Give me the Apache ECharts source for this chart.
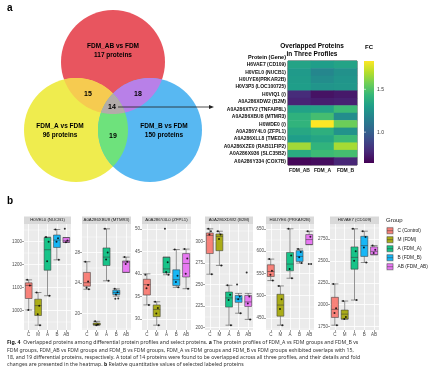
<!DOCTYPE html>
<html>
<head>
<meta charset="utf-8">
<script src="https://cdn.jsdelivr.net/npm/echarts@6/dist/echarts.min.js"></script>
<style>
html,body{margin:0;padding:0;background:#fff}
#chart{width:430px;height:375px}
</style>
</head>
<body>
<div id="chart"></div>
<script>
var chart = echarts.init(document.getElementById('chart'));

// ---- panel a : venn ----
var vennNames = ['FDM_AB vs FDM', 'FDM_A vs FDM', 'FDM_B vs FDM'];
var vennTotals = [117, 96, 150];
var vennPairs = [15, 18, 19];   // AB&A, AB&B, A&B
var vennAll = 14;

// ---- panel a : heatmap ----
var proteins = ['H6VAE7 (CD109)', 'H0VEL0 (NUCB1)', 'H0UYE6(PRKAR2B)', 'H0V3P3 (LOC100725)', 'H0VIQ1 (/)',
  'A0A286XDW2 (B2M)', 'A0A286XTV2 (TNFAIP8L)', 'A0A286XBU8 (MTMR3)', 'H0WDE0 (/)', 'A0A286Y4L0 (ZFPL1)',
  'A0A286XLL8 (TMED1)', 'A0A286XZE0 (RAB11FIP2)', 'A0A286X936 (SLC35B2)', 'A0A286Y334 (COX7B)'];
var profiles = ['FDM_AB', 'FDM_A', 'FDM_B'];
var fcAB = [1.33, 1.28, 1.29, 1.30, 0.79, 0.76, 1.32, 1.40, 1.41, 1.35, 1.30, 1.66, 1.37, 0.66];
var fcA  = [1.30, 1.19, 1.22, 1.26, 0.70, 0.74, 1.33, 1.47, 1.83, 1.39, 1.34, 1.41, 1.45, 0.68];
var fcB  = [1.33, 1.24, 1.26, 1.27, 0.72, 0.75, 1.45, 1.22, 1.56, 1.25, 1.45, 1.67, 1.47, 0.77];
var fcTicks = [1.0, 1.5];

// ---- panel b : boxplots ----
var groups = ['C', 'M', 'A', 'B', 'AB'];
var groupNames = ['C (Control)', 'M (FDM)', 'A (FDM_A)', 'B (FDM_B)', 'AB (FDM_AB)'];
var facetTitles = ['H0VEL0 (NUCB1)', 'A0A286XBU8 (MTMR3)', 'A0A286Y4L0 (ZFPL1)', 'A0A286XDW2 (B2M)', 'H0UYE6 (PRKAR2B)', 'H6VAE7 (CD109)'];
// [min, Q1, median, Q3, max] per group
var boxNUCB1 = [[1003,1053,1110,1121,1134],[937,979,1022,1050,1079],[1065,1176,1265,1318,1320],[1221,1275,1307,1329,1353],[1297,1297,1304,1318,1318]];
var boxMTMR3 = [[23.2,23.6,24.05,25.4,26.8],[18.5,18.52,18.62,18.78,19.0],[24.3,26.3,27.4,28.6,31.1],[22.3,22.5,22.77,23.07,23.25],[25.4,25.4,26.75,26.9,27.4]];
var boxZFPL1 = [[33.1,35.3,37.6,38.8,40.0],[28.6,30.5,32.1,33.1,33.8],[39.8,40.2,41.1,43.7,43.7],[37.0,37.4,38.7,40.9,45.4],[36.7,39.3,42.3,44.5,45.5]];
var boxB2M = [[262,286,307.1,309.9,314.7],[272.2,289.3,306,308.7,311.9],[202.8,223.8,234.5,241.3,249.2],[216.7,229.3,233.3,237.3,239.7],[209.5,224.5,229.8,237.3,239.7]];
var boxPRKAR2B = [[533.7,542.8,554.1,569.2,582],[433.5,453.8,478.7,502.9,521.7],[539,555.7,570.8,597,650],[573,576.7,588,600.9,604.8],[614.5,614.5,625.8,637.1,644.6]];
var boxCD109 = [[1767,1855,1947,2084,2237],[1836,1836,1893,1939,2042],[2053,2405,2539,2658,2864],[2481,2550,2673,2779,2837],[2569,2569,2607,2658,2673]];
// sample points per group
var ptsNUCB1 = [[1134,1110,1003],[1079,1022,985,937],[1320,1300,1215,1065],[1353,1315,1300,1221],[1356,1305,1298]];
var ptsMTMR3 = [[26.8,24.2,23.4,23.2],[19.0,18.6,18.5],[31.1,28.0,27.1,24.3],[23.25,22.8,22.5,22.0,21.95],[27.4,26.8,26.5]];
var ptsZFPL1 = [[39.8,37.5,36.8,33.1],[33.8,32.4,31.2,28.6],[50.0,42.6,40.4,39.8],[45.4,39.6,38.2,37.0],[45.5,43.4,40.0,36.7]];
var ptsB2M = [[314.7,312,308,262],[311.9,308,303,272.2],[249.2,238,232,202.8],[250,236,233,216.7],[264,236,228,209.5]];
var ptsPRKAR2B = [[582,556,547,533.7],[521.7,492,470,433.5],[650,590,560,539],[604.8,598,586,573],[644.6,632,571,571]];
var ptsCD109 = [[2237,1960,1905,1767],[2042,1860,1836],[2864,2610,2500,2053],[2837,2770,2650,2481],[2673,2625,2590]];
var ticksNUCB1 = [1000, 1100, 1200, 1300];
var ticksMTMR3 = [20, 24, 28];
var ticksZFPL1 = [30, 35, 40, 45, 50];
var ticksB2M = [200, 225, 250, 275, 300];
var ticksPRKAR2B = [450, 500, 550, 600, 650];
var ticksCD109 = [1750, 2000, 2250, 2500, 2750];

var facetBoxes = [boxNUCB1, boxMTMR3, boxZFPL1, boxB2M, boxPRKAR2B, boxCD109];
var facetPts = [ptsNUCB1, ptsMTMR3, ptsZFPL1, ptsB2M, ptsPRKAR2B, ptsCD109];
var facetTicks = [ticksNUCB1, ticksMTMR3, ticksZFPL1, ticksB2M, ticksPRKAR2B, ticksCD109];

// ---- styling ----
var viridis = ['#440154','#482878','#3e4989','#31688e','#26828e','#1f9e89','#35b779','#6ece58','#b5de2b','#fde725'];
var groupColors = ['#F8766D', '#A3A500', '#00BF7D', '#00B0F6', '#E76BF3'];
var facetLeft = [24, 82, 142, 205, 266, 330];
var facetWidth = [47, 49, 49, 48, 48, 49];
var facetTop = 224, facetHeight = 106;
var jit = [-0.16, 0.12, -0.04, 0.2, -0.1];
var sans = 'Liberation Sans';

var grids = [], xAxes = [], yAxes = [], series = [], graphics = [];

// venn geometry
var vC = [[113, 62], [76, 130], [150, 130]];
var vR = 52;
var vColors = ['#e8555f', '#efec4e', '#58b8f2'];
var pairColors = ['#f6cb50', '#b880e8', '#6ee27c'];
var allColor = '#b3aca9';

function inter(a, b) {
  var dx = b[0] - a[0], dy = b[1] - a[1], d = Math.sqrt(dx*dx + dy*dy);
  var h = Math.sqrt(vR*vR - d*d/4);
  var mx = a[0] + dx/2, my = a[1] + dy/2;
  return [[mx - h*dy/d, my + h*dx/d], [mx + h*dy/d, my - h*dx/d]];
}
function arcPts(c, p, q) {
  var a0 = Math.atan2(p[1]-c[1], p[0]-c[0]), a1 = Math.atan2(q[1]-c[1], q[0]-c[0]);
  var d = a1 - a0;
  while (d > Math.PI) d -= 2*Math.PI;
  while (d < -Math.PI) d += 2*Math.PI;
  var out = [];
  for (var i = 0; i <= 30; i++) {
    var a = a0 + d*i/30;
    out.push([c[0] + vR*Math.cos(a), c[1] + vR*Math.sin(a)]);
  }
  return out;
}
function inside(p, c) {
  return Math.hypot(p[0]-c[0], p[1]-c[1]) < vR - 0.01;
}
vC.forEach(function (c, i) {
  graphics.push({type: 'circle', shape: {cx: c[0], cy: c[1], r: vR}, style: {fill: vColors[i]}});
});
var pairIdx = [[0, 1], [0, 2], [1, 2]];
var innerPts = [];
pairIdx.forEach(function (pr, k) {
  var ip = inter(vC[pr[0]], vC[pr[1]]);
  var third = vC[3 - pr[0] - pr[1]];
  innerPts.push(inside(ip[0], third) ? ip[0] : ip[1]);
  var poly = arcPts(vC[pr[0]], ip[0], ip[1]).concat(arcPts(vC[pr[1]], ip[1], ip[0]));
  graphics.push({type: 'polygon', shape: {points: poly}, style: {fill: pairColors[k]}});
});
// triple region: R-Y point, R-B point, Y-B point
var tri = arcPts(vC[0], innerPts[0], innerPts[1])
  .concat(arcPts(vC[2], innerPts[1], innerPts[2]))
  .concat(arcPts(vC[1], innerPts[2], innerPts[0]));
graphics.push({type: 'polygon', shape: {points: tri}, style: {fill: allColor}});

function txt(x, y, s, size, weight, align, color, family) {
  return {type: 'text', z: 10, style: {x: x, y: y, text: s, fontSize: size, fontWeight: weight || 'normal',
    align: align || 'center', verticalAlign: 'middle', fill: color || '#000', fontFamily: family || sans}};
}
var setLabelPos = [[113, 46, 55], [60, 126, 135], [164, 126, 135]];
vennNames.forEach(function (n, i) {
  graphics.push(txt(setLabelPos[i][0], setLabelPos[i][1], n, 6.5, 'bold'));
  graphics.push(txt(setLabelPos[i][0], setLabelPos[i][2], vennTotals[i] + ' proteins', 6.5, 'bold'));
});
var pairLabelPos = [[88, 94], [138, 94], [113, 136]];
vennPairs.forEach(function (v, i) {
  graphics.push(txt(pairLabelPos[i][0], pairLabelPos[i][1], String(v), 7, 'bold'));
});
graphics.push(txt(112, 107, String(vennAll), 7, 'bold'));
graphics.push({type: 'line', z: 10, shape: {x1: 118, y1: 107, x2: 211, y2: 107}, style: {stroke: '#222', lineWidth: 0.8}});
graphics.push({type: 'polygon', z: 10, shape: {points: [[214, 107], [209, 105], [209, 109]]}, style: {fill: '#222'}});

graphics.push(txt(7, 8, 'a', 10, 'bold', 'left'));
graphics.push(txt(7, 201, 'b', 10, 'bold', 'left'));

// heatmap texts
graphics.push(txt(312, 46, 'Overlapped Proteins', 6.5, 'bold'));
graphics.push(txt(312, 54, 'in Three Profiles', 6.5, 'bold'));
graphics.push(txt(286, 57, 'Protein (Gene)', 5.5, 'bold', 'right'));
graphics.push(txt(369, 47, 'FC', 6, 'bold'));

// heatmap grid
grids.push({left: 288, top: 61, width: 69, height: 104, show: true, borderColor: '#222', borderWidth: 0.8, backgroundColor: 'transparent'});
xAxes.push({gridIndex: 0, type: 'category', data: profiles, axisLine: {show: false}, axisTick: {show: false},
  axisLabel: {fontSize: 5, fontWeight: 'bold', color: '#111', margin: 3, fontFamily: sans, interval: 0, hideOverlap: false},
  splitLine: {show: false}});
yAxes.push({gridIndex: 0, type: 'category', data: proteins, inverse: true, axisLine: {show: false}, axisTick: {show: false},
  axisLabel: {fontSize: 5, fontWeight: 'bold', color: '#111', margin: 2, fontFamily: sans, interval: 0}, splitLine: {show: false}});
var heatData = [];
proteins.forEach(function (p, i) {
  heatData.push([0, i, fcAB[i]], [1, i, fcA[i]], [2, i, fcB[i]]);
});
series.push({type: 'heatmap', xAxisIndex: 0, yAxisIndex: 0, data: heatData, itemStyle: {borderWidth: 0}});

// colorbar grid
var fcMin = 0.64, fcMax = 1.83;
grids.push({left: 364, top: 61, width: 10, height: 102, show: false});
xAxes.push({gridIndex: 1, type: 'value', min: 0, max: 1, show: false});
yAxes.push({gridIndex: 1, type: 'value', min: fcMin, max: fcMax, position: 'right',
  axisLine: {show: false}, splitLine: {show: false},
  axisTick: {show: false, customValues: fcTicks},
  axisLabel: {customValues: fcTicks, fontSize: 5, color: '#333', margin: 3, fontFamily: sans,
    formatter: function (v) { return v.toFixed(1); }}});
series.push({type: 'custom', xAxisIndex: 1, yAxisIndex: 1, data: [[0.5, 1]],
  renderItem: function (params, api) {
    var cs = params.coordSys;
    var stops = viridis.map(function (c, i) { return {offset: i / (viridis.length - 1), color: c}; });
    var ticks = fcTicks.map(function (t) {
      var y = api.coord([0, t])[1];
      return {type: 'line', shape: {x1: cs.x, y1: y, x2: cs.x + 2, y2: y}, style: {stroke: '#fff', lineWidth: 0.6}};
    });
    return {type: 'group', children: [{type: 'rect', shape: {x: cs.x, y: cs.y, width: cs.width, height: cs.height},
      style: {fill: new echarts.graphic.LinearGradient(0, 1, 0, 0, stops)}}].concat(ticks)};
  }});

// facets
facetBoxes.forEach(function (boxes, k) {
  var g = 2 + k, ax = 2 + 2 * k;
  var pts = facetPts[k], ticks = facetTicks[k];
  var all = [];
  boxes.forEach(function (b) { all = all.concat(b); });
  pts.forEach(function (p) { all = all.concat(p); });
  var lo = Math.min.apply(null, all), hi = Math.max.apply(null, all), pad = (hi - lo) * 0.05;
  lo -= pad; hi += pad;
  var step = ticks[1] - ticks[0];
  var minor = [];
  for (var t = ticks[0] - step / 2; t < hi; t += step) { if (t > lo) minor.push(t); }

  grids.push({left: facetLeft[k], top: facetTop, width: facetWidth[k], height: facetHeight,
    show: true, backgroundColor: '#ebebeb', borderWidth: 0});
  xAxes.push({gridIndex: g, type: 'category', data: groups, axisLine: {show: false},
    axisTick: {show: true, length: 2, alignWithLabel: true, lineStyle: {color: '#444', width: 0.5}},
    axisLabel: {fontSize: 4.5, color: '#4d4d4d', margin: 2.5, interval: 0, fontFamily: sans}, splitLine: {show: false}});
  xAxes.push({gridIndex: g, type: 'value', min: 0, max: 5, axisLine: {show: false}, axisLabel: {show: false},
    axisTick: {show: false, customValues: [0.5, 1.5, 2.5, 3.5, 4.5]},
    splitLine: {show: true, lineStyle: {color: '#fff', width: 0.8}}});
  yAxes.push({gridIndex: g, type: 'value', min: lo, max: hi, axisLine: {show: false},
    axisTick: {show: true, length: 2, customValues: ticks, lineStyle: {color: '#444', width: 0.5}},
    axisLabel: {customValues: ticks, fontSize: 4.5, color: '#4d4d4d', margin: 2, fontFamily: sans,
      formatter: function (v) { return String(v); }},
    splitLine: {show: true, lineStyle: {color: '#fff', width: 0.8}}});
  yAxes.push({gridIndex: g, type: 'value', min: lo, max: hi, position: 'left', axisLine: {show: false},
    axisLabel: {show: false}, axisTick: {show: false, customValues: minor},
    splitLine: {show: true, lineStyle: {color: '#fff', width: 0.4}}});

  series.push({type: 'boxplot', xAxisIndex: ax, yAxisIndex: ax, boxWidth: ['72%', '72%'],
    data: boxes.map(function (b, i) {
      return {value: b, itemStyle: {color: groupColors[i], borderColor: '#3a3a3a', borderWidth: 0.6, opacity: 0.9}};
    })});
  var sc = [];
  pts.forEach(function (arr, gi) {
    arr.forEach(function (v, j) { sc.push([gi + 0.5 + jit[j % jit.length], v]); });
  });
  series.push({type: 'scatter', xAxisIndex: ax + 1, yAxisIndex: ax, data: sc, symbolSize: 2, z: 5,
    itemStyle: {color: '#000'}});

  graphics.push({type: 'rect', shape: {x: facetLeft[k], y: 216.5, width: facetWidth[k], height: 7.5}, style: {fill: '#d9d9d9'}});
  graphics.push(txt(facetLeft[k] + facetWidth[k] / 2, 220.3, facetTitles[k], 4.3, 'normal', 'center', '#1a1a1a'));
});

// legend
graphics.push(txt(386, 220.5, 'Group', 6, 'normal', 'left', '#222'));
groupNames.forEach(function (n, i) {
  var y = 230.7 + i * 9;
  graphics.push({type: 'rect', shape: {x: 386, y: y - 4, width: 8, height: 8}, style: {fill: '#ebebeb'}});
  graphics.push({type: 'rect', shape: {x: 387, y: y - 3, width: 6, height: 6}, style: {fill: groupColors[i], stroke: '#3a3a3a', lineWidth: 0.5, opacity: 0.9}});
  graphics.push({type: 'line', shape: {x1: 387, y1: y, x2: 393, y2: y}, style: {stroke: '#3a3a3a', lineWidth: 0.5}});
  graphics.push(txt(397.5, y, n, 4.8, 'normal', 'left', '#222'));
});

// caption
var capFont = 'Noto Sans', capSize = 5.2;
var capRich = {
  b: {fontWeight: 'bold', fontSize: capSize, fontFamily: capFont, fill: '#111'},
  n: {fontSize: capSize, fontFamily: capFont, fill: '#333'}
};
var capLines = [
  '{b|Fig. 4}{n|  Overlapped proteins among differential protein profiles and select proteins. }{b|a}{n| The protein profiles of FDM_A vs FDM groups and FDM_B vs}',
  '{n|FDM groups, FDM_AB vs FDM groups and FDM_B vs FDM groups, FDM_A vs FDM groups and FDM_B vs FDM groups exhibited overlaps with 15,}',
  '{n|18, and 19 differential proteins, respectively. A total of 14 proteins were found to be overlapped across all three profiles, and their details and fold}',
  '{n|changes are presented in the heatmap. }{b|b}{n| Relative quantitative values of selected labeled proteins}'
];
capLines.forEach(function (s, i) {
  graphics.push({type: 'text', style: {x: 7, y: 342.7 + i * 7.4, text: s, rich: capRich, align: 'left', verticalAlign: 'middle',
    fontSize: capSize, fontFamily: capFont}});
});

var option = {
  animation: false,
  backgroundColor: '#fff',
  grid: grids,
  xAxis: xAxes,
  yAxis: yAxes,
  visualMap: {type: 'continuous', show: false, min: fcMin, max: fcMax, seriesIndex: 0, dimension: 2, inRange: {color: viridis}},
  series: series,
  graphic: {elements: graphics}
};
chart.setOption(option);
</script>
</body>
</html>
